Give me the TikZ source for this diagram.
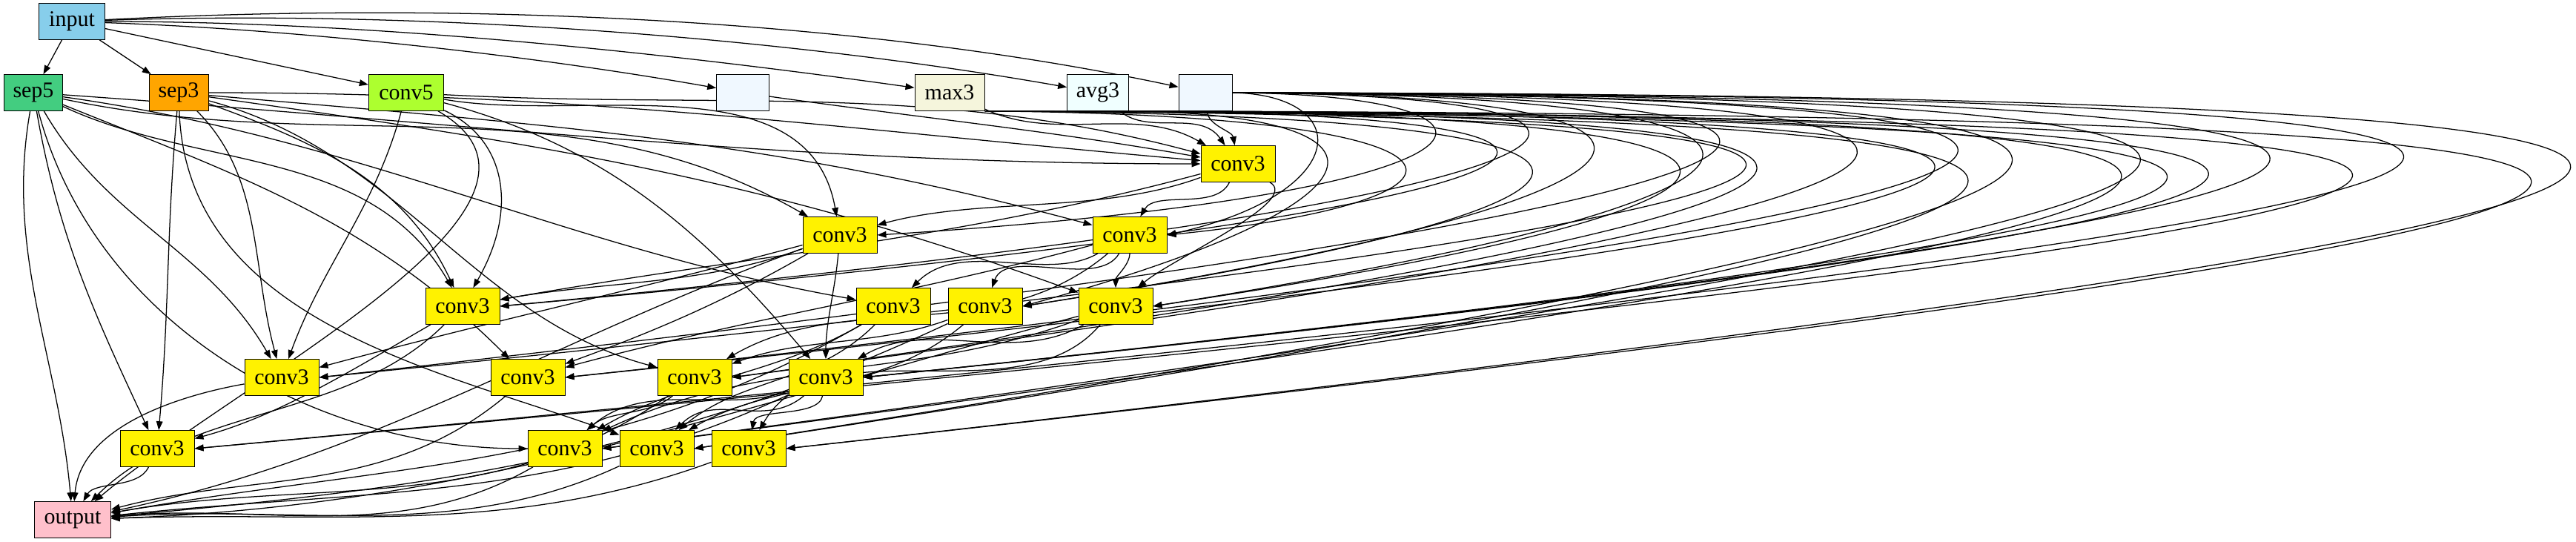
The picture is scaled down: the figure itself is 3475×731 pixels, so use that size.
\documentclass[tikz,border=0pt]{standalone}
\usepackage{fontspec}
\setmainfont{Liberation Serif}
\usepackage{xcolor}
\usepackage{tikz}
\usetikzlibrary{arrows.meta, backgrounds}

\definecolor{inblue}{HTML}{87CEEB}
\definecolor{sepgreen}{HTML}{43CD80}
\definecolor{seporange}{HTML}{FFA500}
\definecolor{convgreen}{HTML}{ADFF2F}
\definecolor{blankblue}{HTML}{F0F8FF}
\definecolor{maxbeige}{HTML}{F5F5DC}
\definecolor{avgazure}{HTML}{F0FFFF}
\definecolor{outpink}{HTML}{FFC0CB}

\begin{document}
\begin{tikzpicture}[
  x=0.75pt, y=0.75pt,
  op/.style={draw, line width=0.75pt, minimum height=36.5pt, inner sep=0pt, font=\fontsize{22.5}{24}\selectfont},
  conv/.style={op, fill=yellow, minimum width=75pt},
  edge/.style={-{Triangle[length=9pt,width=6.5pt]}, line width=0.95pt}
]
\useasboundingbox (0,0) rectangle (3475,-731);

% --- input and first operations ---
\node[op, fill=inblue, minimum width=67pt] (input) at (97,-29) {input};
\node[op, fill=sepgreen, minimum width=59pt] (sep5) at (45,-125) {sep5};
\node[op, fill=seporange, minimum width=60pt] (sep3) at (241,-125) {sep3};
\node[op, fill=convgreen, minimum width=76pt] (conv5) at (548,-125) {conv5};
\node[op, fill=blankblue, minimum width=53pt] (blankA) at (1002,-125) {};
\node[op, fill=maxbeige, minimum width=70.5pt] (max3) at (1281,-125) {max3};
\node[op, fill=avgazure, minimum width=62pt] (avg3) at (1481,-125) {avg3};
\node[op, fill=blankblue, minimum width=54pt] (blankB) at (1626,-125) {};

% --- conv3 nodes ---
\node[conv] (c1) at (1670,-221) {conv3};
\node[conv] (c2) at (1133,-317) {conv3};
\node[conv] (c3) at (1524,-317) {conv3};
\node[conv] (c4) at (624,-413) {conv3};
\node[conv] (c5) at (1205,-413) {conv3};
\node[conv] (c6) at (1329,-413) {conv3};
\node[conv] (c7) at (1505,-413) {conv3};
\node[conv] (c8) at (380,-509) {conv3};
\node[conv] (c9) at (712,-509) {conv3};
\node[conv] (c10) at (937,-509) {conv3};
\node[conv] (c11) at (1114,-509) {conv3};
\node[conv] (c12) at (212,-605) {conv3};
\node[conv] (c13) at (762,-605) {conv3};
\node[conv] (c14) at (886,-605) {conv3};
\node[conv] (c15) at (1010,-605) {conv3};

% --- output ---
\node[op, fill=outpink, minimum width=77pt] (output) at (98,-701) {output};

\begin{scope}[on background layer]
% --- edges from input ---
\draw[edge] (input) -- (sep5);
\draw[edge] (input) -- (sep3);
\draw[edge] (input) -- (conv5);
\foreach \t/\o/\i/\d in {blankA/-2/170/300, max3/0/172/400, avg3/2/170/450, blankB/3/168/500}
  \draw[edge] (input) .. controls +(\o:\d) and +(\i:\d) .. (\t);

% --- edges from sep5, sep3, conv5 ---
\foreach \t/\o/\i/\d in {output/-100/95/220, c12/-80/115/200, c8/-60/120/200, c13/-75/180/330, c4/-25/120/250, c9/-22/135/300, c2/-12/150/420, c5/-8/170/450, c1/-4/180/600}
  \draw[edge] (sep5) .. controls +(\o:\d) and +(\i:\d) .. (\t);
\foreach \t/\o/\i/\d in {c12/-95/85/190, c14/-88/160/310, c8/-45/105/160, c4/-20/115/190, c10/-15/165/310, c3/-5/165/500, c1/0/175/550, c7/-8/160/500}
  \draw[edge] (sep3) .. controls +(\o:\d) and +(\i:\d) .. (\t);
\foreach \t/\o/\i/\d in {c8/-105/70/160, c4/-25/60/150, output/-30/40/300, c2/-10/100/240, c1/-3/165/430, c11/-15/130/270}
  \draw[edge] (conv5) .. controls +(\o:\d) and +(\i:\d) .. (\t);

% --- pools and blanks into the first conv3 ---
\draw[edge] (blankA) .. controls +(-8:260) and +(170:260) .. (c1);
\draw[edge] (max3) .. controls +(-25:160) and +(150:160) .. (c1);
\draw[edge] (avg3) .. controls +(-40:90) and +(125:90) .. (c1);
\draw[edge] (blankB) .. controls +(-85:45) and +(100:45) .. (c1);

% --- long edges round the right side ---
\foreach \t/\r in {c15/4160, c12/3960, c11/3603, c13/3415, c14/3167, c9/3089, c10/2879, c8/2684, c7/2524, c6/2353, c4/2304, c2/2085, c3/1827}
  \draw[edge] (blankB.east) .. controls (\r,-128) and (\r,-260) .. (\t.east);
\foreach \s/\t/\r in {avg3/c15/4116, max3/c12/3942, avg3/c11/3519, max3/c11/3480, avg3/c13/3411, max3/c14/3156, avg3/c9/3079, avg3/c10/2728, max3/c8/2820, avg3/c7/2507, max3/c6/2303, avg3/c4/2287, max3/c3/2036, avg3/c6/1900}
  \draw[edge] (\s.south east) .. controls (\r,-155) and (\r,-270) .. (\t.east);

% --- edges between conv3 nodes and into output ---
\foreach \s/\t/\o/\i/\d in {
  c1/c2/200/15/200, c1/c3/-115/60/70, c1/c4/195/10/400, c1/c7/-30/40/100,
  c2/c4/200/10/200, c2/c8/195/15/300, c2/c11/-95/90/75, c2/c9/-150/20/180, c2/output/-160/12/420,
  c3/c5/-150/45/130, c3/c6/-120/70/85, c3/c7/-90/90/40, c3/c9/195/15/320, c3/c10/-140/30/240,
  c4/c12/-150/15/170, c4/output/-135/45/220,
  c5/c13/-150/30/190, c5/c14/-135/40/150, c5/output/-150/10/440,
  c6/c10/-160/20/160, c6/c14/-140/30/190, c6/output/-155/5/480,
  c7/c11/-150/30/160, c7/c15/-130/60/200, c7/c13/-160/25/300, c7/output/-165/2/540,
  c8/output/190/85/130,
  c9/output/-140/15/250,
  c10/c13/-140/40/80, c10/output/-145/10/330,
  c11/c13/-160/40/145, c11/c14/-140/45/110, c11/c15/-100/80/55, c11/output/-155/6/400,
  c12/output/-115/60/60,
  c13/output/-150/5/260, c14/output/-155/4/300, c15/output/-160/2/350}
  \draw[edge] (\s) .. controls +(\o:\d) and +(\i:\d) .. (\t);
\end{scope}

\end{tikzpicture}
\end{document}
